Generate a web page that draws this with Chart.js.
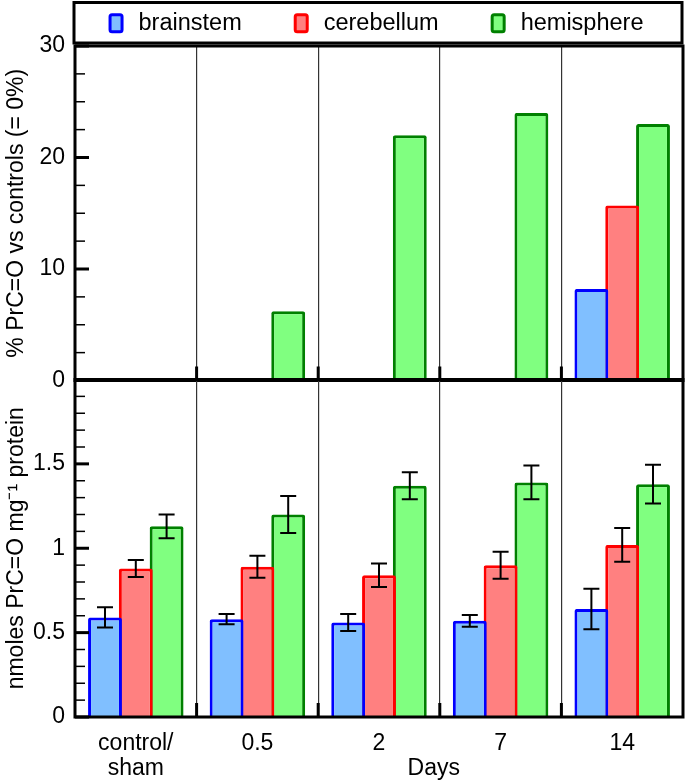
<!DOCTYPE html>
<html>
<head>
<meta charset="utf-8">
<script src="https://cdn.jsdelivr.net/npm/chart.js@4.4.0/dist/chart.umd.min.js"></script>
<style>
  html, body { margin: 0; padding: 0; background: #fff; overflow: hidden; }
  #wrap { position: relative; width: 685px; height: 781px; overflow: hidden; }
  .panel { position: absolute; left: 0; width: 685px; }
  #top { top: 0; height: 403px; }
  #bottom { top: 357px; height: 430px; }
</style>
</head>
<body>
<div id="wrap">
  <div class="panel" id="top"><canvas id="pctChart"></canvas></div>
  <div class="panel" id="bottom"><canvas id="levelChart"></canvas></div>
</div>
<script>
const days = [['control/', 'sham'], '0.5', '2', '7', '14'];
const regions = ['brainstem', 'cerebellum', 'hemisphere'];
const xTitle = 'Days';

// % PrC=O vs controls
const pctBrainstem = [0, 0, 0, 0, 8.2];
const pctCerebellum = [0, 0, 0, 0, 15.7];
const pctHemisphere = [0, 6.2, 22.0, 24.0, 23.0];

// nmoles PrC=O per mg protein (mean, error)
const brainstem = [0.59, 0.58, 0.56, 0.57, 0.64];
const brainstemErr = [0.06, 0.03, 0.05, 0.035, 0.12];
const cerebellum = [0.88, 0.89, 0.84, 0.90, 1.02];
const cerebellumErr = [0.05, 0.065, 0.07, 0.08, 0.10];
const hemisphere = [1.13, 1.20, 1.37, 1.39, 1.38];
const hemisphereErr = [0.07, 0.11, 0.08, 0.10, 0.115];

const pctTicks = [0, 10, 20, 30];
const levelTicks = [0, 0.5, 1, 1.5];

const fills = ['#80bfff', '#ff8080', '#80ff80'];
const strokes = ['#0000ff', '#ff0000', '#008000'];
const FONT = '"Liberation Sans", Arial, sans-serif';
const font = { family: FONT, size: 23, lineHeight: '25px' };

function makeSets(series) {
  return series.map((data, i) => ({
    label: regions[i],
    data: data,
    backgroundColor: fills[i],
    borderColor: strokes[i],
    borderWidth: 3,
    borderRadius: 2,
    barPercentage: 1.1,
    categoryPercentage: 0.76
  }));
}

// frame, inward ticks, boundary stubs, error bars, legend
const framePlugin = {
  id: 'frame',
  afterDatasetsDraw(chart, args, opts) {
    const { ctx, chartArea: a, scales: { x, y } } = chart;
    ctx.save();
    ctx.strokeStyle = '#000';

    if (opts.errors) {
      ctx.lineWidth = 2;
      opts.errors.forEach((errs, i) => {
        const meta = chart.getDatasetMeta(i);
        meta.data.forEach((bar, j) => {
          const v = chart.data.datasets[i].data[j];
          const hi = y.getPixelForValue(v + errs[j]);
          const lo = y.getPixelForValue(v - errs[j]);
          ctx.beginPath();
          ctx.moveTo(bar.x, hi); ctx.lineTo(bar.x, lo);
          ctx.moveTo(bar.x - 8, hi); ctx.lineTo(bar.x + 8, hi);
          ctx.moveTo(bar.x - 8, lo); ctx.lineTo(bar.x + 8, lo);
          ctx.stroke();
        });
      });
    }

    const n = Math.round((y.max - y.min) / opts.minor);
    for (let k = 0; k <= n; k++) {
      const v = y.min + k * opts.minor;
      const major = Math.abs(v / opts.major - Math.round(v / opts.major)) < 1e-6;
      const py = y.getPixelForValue(v);
      ctx.lineWidth = major ? 3 : 1.5;
      ctx.beginPath();
      ctx.moveTo(a.left, py);
      ctx.lineTo(a.left + (major ? 14 : 10), py);
      ctx.stroke();
    }

    ctx.lineWidth = 3;
    for (let i = 1; i < chart.data.labels.length; i++) {
      const px = (x.getPixelForValue(i - 1) + x.getPixelForValue(i)) / 2;
      ctx.beginPath();
      ctx.moveTo(px, a.bottom);
      ctx.lineTo(px, a.bottom - 14);
      ctx.stroke();
    }

    ctx.strokeRect(a.left, a.top, a.width, a.height);
    ctx.restore();
  },
  afterDraw(chart, args, opts) {
    const { ctx, chartArea: a } = chart;
    ctx.save();
    ctx.fillStyle = '#000';
    ctx.textBaseline = 'middle';

    if (opts.legend) {
      const top = 2.5, bottom = 43;
      ctx.strokeStyle = '#000';
      ctx.lineWidth = 3;
      ctx.strokeRect(a.left - 1, top, a.width, bottom - top);

      ctx.font = '23.5px ' + FONT;
      const mw = 15, mh = 20, gap = 15, itemGap = 52;
      const items = chart.data.datasets.map(ds => ({ ds, w: mw + gap + ctx.measureText(ds.label).width }));
      const total = items.reduce((s, it) => s + it.w, 0) + itemGap * (items.length - 1);
      let cx = (a.left + a.right) / 2 - total / 2 - 3;
      const cy = (top + bottom) / 2 + 0.5;
      items.forEach(it => {
        ctx.beginPath();
        ctx.roundRect(cx + 1.5, cy - mh / 2 + 1.5, mw - 3, mh - 3, 2);
        ctx.fillStyle = it.ds.backgroundColor;
        ctx.fill();
        ctx.lineWidth = 3;
        ctx.strokeStyle = it.ds.borderColor;
        ctx.stroke();
        ctx.fillStyle = '#000';
        ctx.textAlign = 'left';
        ctx.fillText(it.ds.label, cx + mw + gap, cy);
        cx += it.w + itemGap;
      });
    }

    if (opts.xTitle) {
      const x = chart.scales.x;
      ctx.font = font.size + 'px ' + FONT;
      ctx.textAlign = 'center';
      const px = (x.getPixelForValue(2) + x.getPixelForValue(3)) / 2 - 6;
      ctx.fillText(opts.xTitle, px, x.top + x.options.ticks.padding + 25 * 1.5);
    }
    ctx.restore();
  }
};

function yScale(min, max, ticks, title) {
  return {
    min: min, max: max,
    afterBuildTicks: s => { s.ticks = ticks.map(v => ({ value: v })); },
    afterFit: s => { s.width = 75; },
    grid: { display: false, drawTicks: false },
    border: { display: false },
    ticks: { font: font, color: '#000', padding: 10, callback: v => String(v) },
    title: { display: true, text: title, font: font, color: '#000', padding: { top: 4, bottom: 0 } }
  };
}

const xGrid = { color: '#333', lineWidth: 1.2, drawTicks: false, offset: true };

new Chart(document.getElementById('pctChart').getContext('2d'), {
  type: 'bar',
  data: { labels: days, datasets: makeSets([pctBrainstem, pctCerebellum, pctHemisphere]) },
  plugins: [framePlugin],
  options: {
    responsive: true,
    maintainAspectRatio: false,
    animation: false,
    layout: { padding: { top: 46, right: 2, bottom: 20, left: 0 } },
    plugins: {
      legend: { display: false },
      tooltip: { enabled: false },
      frame: { minor: 2.5, major: 10, legend: true }
    },
    scales: {
      x: { grid: xGrid, border: { display: false }, ticks: { display: false } },
      y: yScale(0, 30, pctTicks, '% PrC=O vs controls (= 0%)')
    }
  }
});

new Chart(document.getElementById('levelChart').getContext('2d'), {
  type: 'bar',
  data: { labels: days, datasets: makeSets([brainstem, cerebellum, hemisphere]) },
  plugins: [framePlugin],
  options: {
    responsive: true,
    maintainAspectRatio: false,
    animation: false,
    layout: { padding: { top: 0, right: 2, bottom: 0, left: 0 } },
    plugins: {
      legend: { display: false },
      tooltip: { enabled: false },
      frame: {
        minor: 0.1, major: 0.5,
        errors: [brainstemErr, cerebellumErr, hemisphereErr],
        xTitle: xTitle
      }
    },
    scales: {
      x: {
        grid: xGrid,
        border: { display: false },
        afterFit: s => { s.height = 70; },
        ticks: { font: font, color: '#000', padding: 14, maxRotation: 0 }
      },
      y: yScale(0, 2, levelTicks, 'nmoles PrC=O mg\u207B\u00B9 protein')
    }
  }
});
</script>
</body>
</html>
